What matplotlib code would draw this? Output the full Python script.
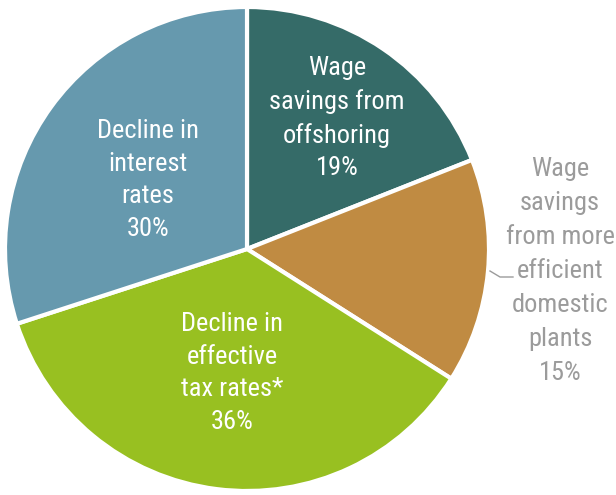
import matplotlib.pyplot as plt
from matplotlib import font_manager

# data
labels = ['Wage\nsavings from\noffshoring', 'Wage\nsavings\nfrom more\nefficient\ndomestic\nplants',
          'Decline in\neffective\ntax rates*', 'Decline in\ninterest\nrates']
shares = [19, 15, 36, 30]
colors = ['#356B68', '#C08B42', '#98C021', '#6699AE']

names = {f.name for f in font_manager.fontManager.ttflist}
family = 'Roboto'
for cand in ['Roboto Condensed', 'Liberation Sans Narrow']:
    if cand in names:
        family = cand
        break
plt.rcParams['font.family'] = [family, 'DejaVu Sans']

fig = plt.figure(figsize=(6.16, 4.95), dpi=100)
ax = fig.add_axes([0, 0, 1, 1])

cx, cy, r = 247, 495 - 249, 242
ax.pie(shares, colors=colors, startangle=90, counterclock=False,
       center=(cx, cy), radius=r, frame=True,
       wedgeprops=dict(edgecolor='white', linewidth=3))
ax.set_xlim(0, 616)
ax.set_ylim(0, 495)
ax.set_aspect('equal')
ax.axis('off')

# label positions in pixels (x, y from top)
pos = [(337, 118), (560, 271), (232, 373), (148, 180)]
txt_col = ['white', '#9B9B9B', 'white', 'white']
sizes = [19, 19, 19, 19]
spacing = [1.45, 1.52, 1.45, 1.45]
for lab, s, (x, y), c, fs, ls in zip(labels, shares, pos, txt_col, sizes, spacing):
    ax.text(x, 495 - y, f'{lab}\n{s}%', ha='center', va='center', color=c,
            fontsize=fs, linespacing=ls)

# leader line for the outside label
ax.plot([490, 500, 513], [495 - 271, 495 - 277, 495 - 277], color='#9B9B9B', lw=1)

fig.savefig('out.png', dpi=100)
